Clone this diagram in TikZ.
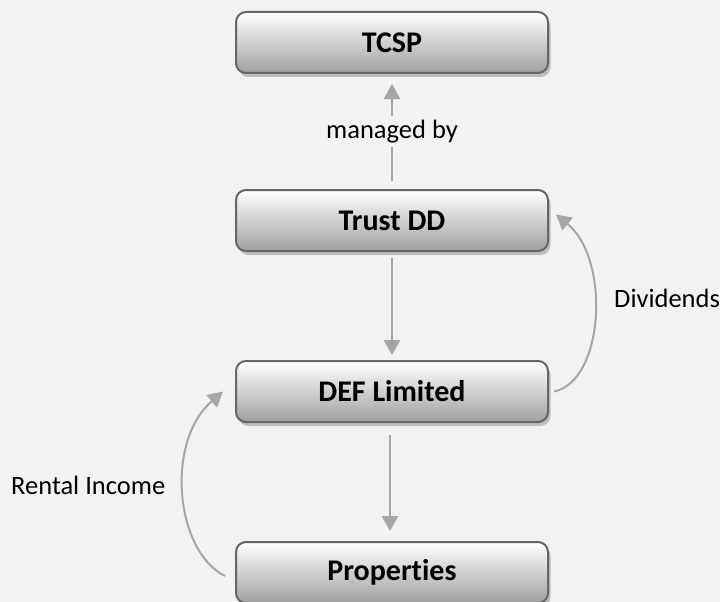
\documentclass[tikz,border=0pt]{standalone}
\usepackage{fontspec}
\setmainfont{Carlito}[Ligatures={NoCommon}]
\usetikzlibrary{arrows.meta,shadows}
\definecolor{bg}{HTML}{F2F2F2}
\definecolor{edge}{HTML}{666666}
\definecolor{arr}{HTML}{A6A6A6}
\definecolor{boxbot}{HTML}{A0A0A0}
\definecolor{shad}{HTML}{BDBDBD}
\tikzset{
  box/.style={rectangle, rounded corners=10pt, draw=edge, line width=2pt,
    top color=white, bottom color=boxbot, minimum width=312pt, minimum height=61pt,
    inner sep=0pt, font=\fontsize{30}{36}\selectfont\bfseries,
    drop shadow={shadow xshift=2.5pt, shadow yshift=-4pt, fill=shad, opacity=1}},
  conn/.style={draw=arr, line width=2.6pt, -{Triangle[length=15pt,width=16pt]}},
  curv/.style={draw=arr, line width=2pt, -{Triangle[length=15pt,width=16pt]}},
  lbl/.style={font=\fontsize{26.5}{32}\selectfont, text=black, inner sep=2pt}
}
\begin{document}
\begin{tikzpicture}[x=1pt,y=-1pt]
\fill[bg] (0,0) rectangle (720,602);
\useasboundingbox (0,0) rectangle (720,602);
\node[box] (tcsp) at (392,42.5) {TCSP};
\node[box] (trust) at (392,220.5) {Trust DD};
\node[box] (def) at (392,391.5) {DEF Limited};
\node[box] (prop) at (392,572.5) {Properties};
\draw[conn, shorten <=8pt, shorten >=10pt] (trust.north) -- (tcsp.south)
  node[midway, lbl, fill=bg, inner sep=4pt] (mb) {managed by};
\draw[conn, shorten <=6pt, shorten >=5pt] (trust.south) -- (def.north);
\draw[conn, shorten <=12pt, shorten >=10pt] ([xshift=-2pt]def.south) -- ([xshift=-2pt]prop.north);
\draw[curv] ([xshift=5pt]def.east) .. controls +(50,-10) and +(55,45) .. ([shift={(7,-6)}]trust.east);
\draw[curv] ([shift={(-10,3.5)}]prop.west) .. controls +(-50,-25) and +(-58,50) .. ([xshift=-12pt]def.west);
\node[lbl, anchor=west] (div) at (612,298) {Dividends};
\node[lbl, anchor=west] (rent) at (9,485) {Rental Income};
\end{tikzpicture}
\end{document}
